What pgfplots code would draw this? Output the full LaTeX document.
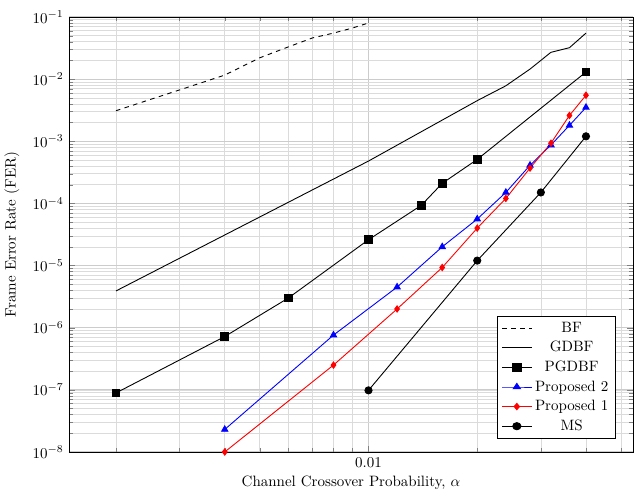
\documentclass[border=0pt]{standalone}
\usepackage{pgfplots}
\pgfplotsset{compat=1.18}
\begin{document}
\begin{tikzpicture}
\begin{loglogaxis}[
  name=ax,
  scale only axis,
  width=376pt, height=290pt,
  ymin=1e-8, ymax=1e-1,
  enlarge x limits=0.1,
  xtick={0.01}, xticklabels={0.01},
  minor xtick={0.002,0.003,0.004,0.005,0.006,0.007,0.008,0.009,0.02,0.03,0.04,0.05},
  ytick={1e-8,1e-7,1e-6,1e-5,1e-4,1e-3,1e-2,1e-1},
  grid=both,
  major grid style={gray!40, line width=0.7pt},
  minor grid style={gray!28, line width=0.4pt},
  xlabel={Channel Crossover Probability, $\alpha$},
  xlabel style={yshift=1pt},
  ylabel={Frame Error Rate (FER)},
  ylabel style={yshift=2pt},
  legend pos=south east,
  legend cell align=center,
  legend style={font=\normalsize, row sep=0.6pt},
  legend image post style={xscale=1.15},
  every axis plot/.append style={line width=0.6pt},
]
\addplot[black, dashed, no marks] coordinates {
 (0.002,3.1e-3) (0.003,6.7e-3) (0.004,0.0116) (0.005,0.022) (0.006,0.033)
 (0.007,0.046) (0.008,0.055) (0.009,0.066) (0.01,0.08)};
\addlegendentry{BF}
\addplot[black, no marks] coordinates {
 (0.002,3.9e-6) (0.01,4.8e-4) (0.02,4.5e-3) (0.024,7.8e-3) (0.028,0.0145)
 (0.032,0.027) (0.036,0.032) (0.04,0.055)};
\addlegendentry{GDBF}
\addplot[black, mark=square*, mark size=2.6pt, mark options={solid}] coordinates {
 (0.002,8.9e-8) (0.004,7.2e-7) (0.006,3.0e-6) (0.01,2.6e-5) (0.014,9.3e-5)
 (0.016,2.1e-4) (0.02,5.1e-4) (0.04,0.013)};
\addlegendentry{PGDBF}
\addplot[blue, mark=triangle*, mark size=2.4pt] coordinates {
 (0.004,2.3e-8) (0.008,7.6e-7) (0.012,4.5e-6) (0.016,2.0e-5) (0.02,5.6e-5)
 (0.024,1.5e-4) (0.028,4.1e-4) (0.032,8.7e-4) (0.036,1.8e-3) (0.04,3.5e-3)};
\addlegendentry{Proposed 2}
\addplot[red, mark=diamond*, mark size=2.1pt] coordinates {
 (0.004,1e-8) (0.008,2.5e-7) (0.012,2.0e-6) (0.016,9.3e-6) (0.02,4.0e-5)
 (0.024,1.2e-4) (0.028,3.7e-4) (0.032,9.3e-4) (0.036,2.6e-3) (0.04,5.5e-3)};
\addlegendentry{Proposed 1}
\addplot[black, mark=*, mark size=2.4pt] coordinates {
 (0.01,9.8e-8) (0.02,1.2e-5) (0.03,1.5e-4) (0.04,1.2e-3)};
\addlegendentry{MS}
\end{loglogaxis}
\pgfresetboundingbox
\path[use as bounding box] ([shift={(-46pt,-28.7pt)}]ax.south west) rectangle ([shift={(2pt,11.3pt)}]ax.north east);
\end{tikzpicture}
\end{document}
